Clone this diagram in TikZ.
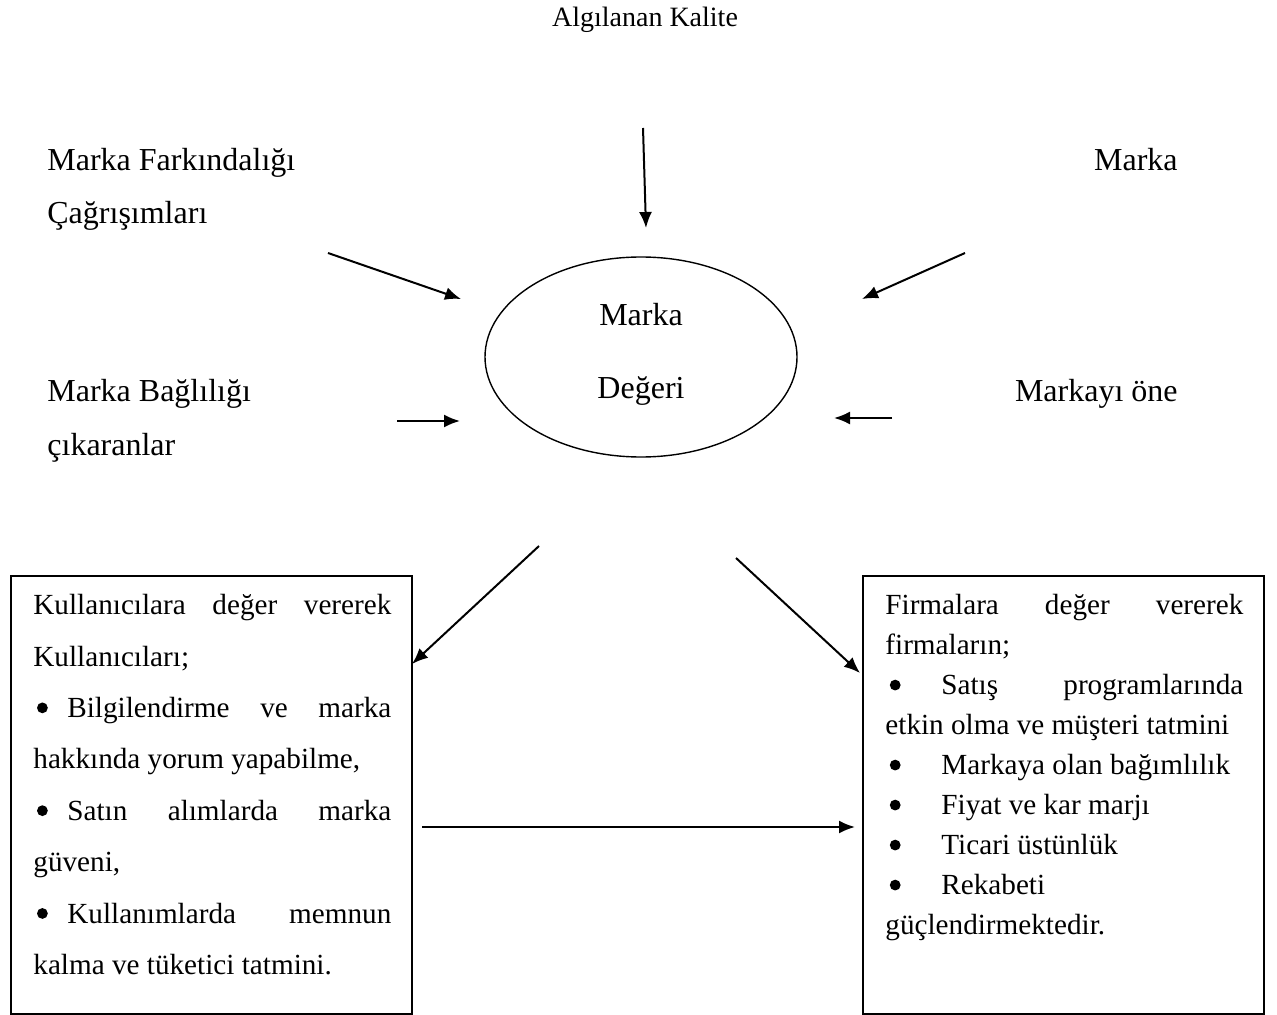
\documentclass[tikz,border=0pt]{standalone}
\usepackage{fontspec}
\usepackage{pict2e}
\setmainfont{Liberation Serif}
\usetikzlibrary{arrows.meta,shapes.geometric}
\setlength{\parindent}{0pt}
\setlength{\unitlength}{1pt}
\newcommand{\bigdot}{\begin{picture}(5.4,0)\put(2.7,4.8){\circle*{5.4}}\end{picture}}
\newcommand{\userbullet}{\makebox[17pt][l]{\hspace{1.8pt}\bigdot}}
\newcommand{\firmbullet}{\makebox[28pt][l]{\hspace{2.2pt}\bigdot}}

\begin{document}
\begin{tikzpicture}[x=0.5pt, y=-0.5pt, >={Latex[length=8pt,width=6.5pt]},
  lbl/.style={inner sep=0pt, font=\fontsize{16}{19}\selectfont},
  arr/.style={->, line width=1pt},
  listbox/.style={draw, line width=0.75pt, minimum width=200.5pt,
    minimum height=219pt, inner sep=0pt, anchor=north west},
  boxtext/.style={inner sep=0pt, anchor=north west, text width=179pt, align=justify}]
  \useasboundingbox (0,0) rectangle (1277,1015);
  % Outer labels
  \node[lbl, anchor=base, font=\fontsize{14}{17}\selectfont] (quality) at (645,27) {Algılanan Kalite};
  \node[lbl, anchor=base west] (awareness) at (47,171) {Marka Farkındalığı};
  \node[lbl, anchor=base west] (associations) at (47,224) {Çağrışımları};
  \node[lbl, anchor=base east] (brand) at (1178,171) {Marka};
  \node[lbl, anchor=base west] (loyalty) at (47,401) {Marka Bağlılığı};
  \node[lbl, anchor=base west] (removers) at (47,455) {çıkaranlar};
  \node[lbl, anchor=base east] (forward) at (1178,401) {Markayı öne};
  % Brand value ellipse
  \node[draw, ellipse, line width=0.7pt, minimum width=156pt, minimum height=100pt,
    inner sep=0pt] (value) at (641,357) {};
  \node[lbl, anchor=base] (valuetop) at (641,326) {Marka};
  \node[lbl, anchor=base] (valuebottom) at (641,399) {Değeri};
  % Arrow ends
  \coordinate (qualityin) at (643,128);  \coordinate (qualityout) at (646,228);
  \coordinate (awarein) at (328,253);    \coordinate (awareout) at (461,299);
  \coordinate (brandin) at (965,253);    \coordinate (brandout) at (862,299);
  \coordinate (loyalin) at (397,421);    \coordinate (loyalout) at (460,421);
  \coordinate (forwardin) at (892,418);  \coordinate (forwardout) at (834,418);
  \coordinate (usersin) at (539,546);    \coordinate (usersout) at (412,664);
  \coordinate (firmsin) at (736,558);    \coordinate (firmsout) at (860,673);
  \coordinate (linkin) at (422,827);     \coordinate (linkout) at (855,827);
  % Boxes
  \node[listbox] (users) at (10,575) {};
  \node[listbox] (firms) at (862,575) {};
  \node[boxtext, font=\fontsize{14.6}{25.7}\selectfont] (userstext) at (33,594)
    {Kullanıcılara değer vererek\linebreak Kullanıcıları;\par
     \userbullet Bilgilendirme ve marka\linebreak hakkında yorum yapabilme,\par
     \userbullet Satın alımlarda marka\linebreak güveni,\par
     \userbullet Kullanımlarda memnun\linebreak kalma ve tüketici tatmini.};
  \node[boxtext, font=\fontsize{14.6}{20}\selectfont] (firmstext) at (885,594)
    {Firmalara değer vererek\linebreak firmaların;\par
     \firmbullet Satış programlarında\linebreak etkin olma ve müşteri tatmini\par
     \firmbullet Markaya olan bağımlılık\par
     \firmbullet Fiyat ve kar marjı\par
     \firmbullet Ticari üstünlük\par
     \firmbullet Rekabeti\par
     güçlendirmektedir.};
  % Arrows
  \draw[arr] (qualityin) -- (qualityout);
  \draw[arr] (awarein) -- (awareout);
  \draw[arr] (brandin) -- (brandout);
  \draw[arr] (loyalin) -- (loyalout);
  \draw[arr] (forwardin) -- (forwardout);
  \draw[arr] (usersin) -- (usersout);
  \draw[arr] (firmsin) -- (firmsout);
  \draw[arr] (linkin) -- (linkout);
\end{tikzpicture}
\end{document}
